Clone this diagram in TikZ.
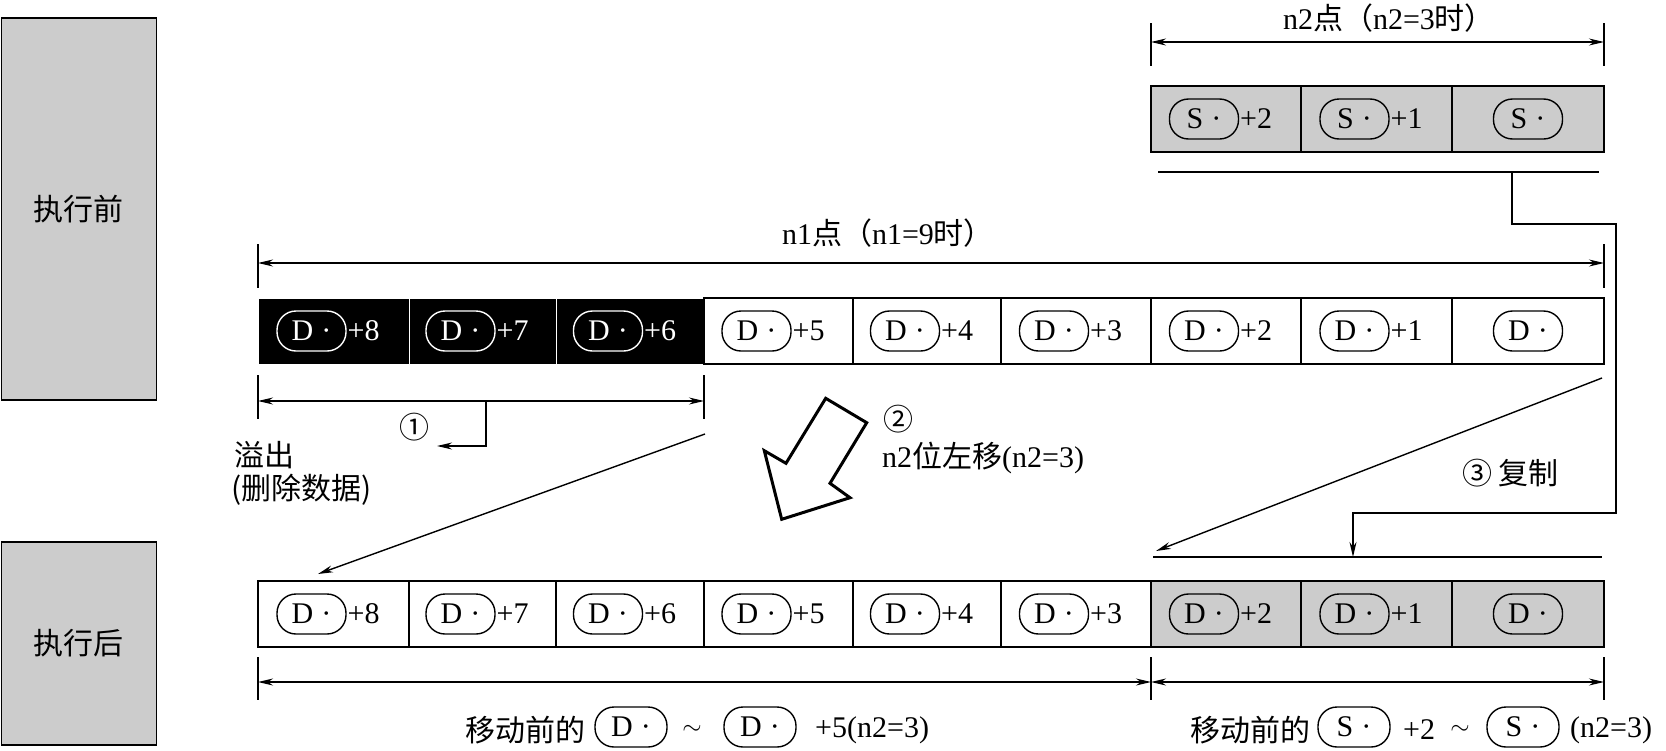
\documentclass[tikz,border=0pt]{standalone}
\usepackage{fontspec}
\setmainfont{Liberation Serif}
\newfontfamily\cjk{Noto Sans CJK SC}
\usetikzlibrary{arrows.meta}
\definecolor{boxgray}{RGB}{204,204,204}
\newcommand\dcell[8]{%
  \node[#5, minimum width=#3pt] (#1) at (#2,#4) {};
  \node[pill, draw=#6, text=#6] (#1p) at ([xshift=-22pt]#1.center) {#7\hspace{8pt}·};
  \node[anchor=west, text=#6] (#1s) at ([xshift=14pt]#1.center) {#8};
}
\newcommand\ecell[7]{%
  \node[#5, minimum width=#3pt] (#1) at (#2,#4) {};
  \node[pill, draw=#6, text=#6] (#1p) at (#1.center) {#7\hspace{8pt}·};
}
\begin{document}
\begin{tikzpicture}[x=1pt,y=-1pt,
  every node/.style={font=\fontsize{30}{34}\selectfont, inner sep=0pt},
  sidebox/.style={draw, line width=1.8pt, fill=boxgray},
  cellw/.style={draw, line width=1.8pt, fill=white, minimum height=66pt},
  cellg/.style={draw, line width=1.8pt, fill=boxgray, minimum height=66pt},
  cellk/.style={draw=white, line width=1pt, fill=black, minimum height=66pt},
  pill/.style={draw, line width=1.4pt, rounded corners=19pt, minimum width=69pt, minimum height=40pt},
  arr/.style={-{Stealth[length=15pt,width=7pt]}},
  dimln/.style={line width=1.4pt, {Stealth[length=15pt,width=7pt]}-{Stealth[length=15pt,width=7pt]}},
  tickln/.style={line width=1.4pt},
  conn/.style={line width=1.4pt},
]
\useasboundingbox (0,0) rectangle (1666,750);

% side labels
\node[sidebox, minimum width=155pt, minimum height=382pt] (before) at (79,209) {{\cjk 执行前}};
\node[sidebox, minimum width=155pt, minimum height=203pt] (after) at (79,643.5) {{\cjk 执行后}};

% S row
\dcell{s1}{1226}{150}{119}{cellg}{black}{S}{+2}
\dcell{s2}{1376.5}{151}{119}{cellg}{black}{S}{+1}
\ecell{s3}{1528}{152}{119}{cellg}{black}{S}

% top D row
\dcell{t1}{333.5}{151}{331}{cellk}{white}{D}{+8}
\dcell{t2}{482.5}{147}{331}{cellk}{white}{D}{+7}
\dcell{t3}{630}{148}{331}{cellk}{white}{D}{+6}
\dcell{t4}{778.5}{149}{331}{cellw}{black}{D}{+5}
\dcell{t5}{927}{148}{331}{cellw}{black}{D}{+4}
\dcell{t6}{1076}{150}{331}{cellw}{black}{D}{+3}
\dcell{t7}{1226}{150}{331}{cellw}{black}{D}{+2}
\dcell{t8}{1376.5}{151}{331}{cellw}{black}{D}{+1}
\ecell{t9}{1528}{152}{331}{cellw}{black}{D}

% bottom D row
\dcell{b1}{333.5}{151}{614}{cellw}{black}{D}{+8}
\dcell{b2}{482.5}{147}{614}{cellw}{black}{D}{+7}
\dcell{b3}{630}{148}{614}{cellw}{black}{D}{+6}
\dcell{b4}{778.5}{149}{614}{cellw}{black}{D}{+5}
\dcell{b5}{927}{148}{614}{cellw}{black}{D}{+4}
\dcell{b6}{1076}{150}{614}{cellw}{black}{D}{+3}
\dcell{b7}{1226}{150}{614}{cellg}{black}{D}{+2}
\dcell{b8}{1376.5}{151}{614}{cellg}{black}{D}{+1}
\ecell{b9}{1528}{152}{614}{cellg}{black}{D}

% n2 dimension
\node (n2txt) at (1389,18) {n2{\cjk 点（}n2=3{\cjk 时）}};
\coordinate (n2L) at (1151,42); \coordinate (n2R) at (1604,42);
\draw[dimln] (n2L) -- (n2R);
\draw[tickln] (1151,23) -- (1151,66);
\draw[tickln] (1604,23) -- (1604,66);

% n1 dimension
\node (n1txt) at (888,233) {n1{\cjk 点（}n1=9{\cjk 时）}};
\coordinate (n1L) at (258,263); \coordinate (n1R) at (1604,263);
\draw[dimln] (n1L) -- (n1R);
\draw[tickln] (258,244) -- (258,288);
\draw[tickln] (1604,244) -- (1604,288);

% overflow dimension
\coordinate (ovL) at (258,401); \coordinate (ovR) at (704,401);
\draw[dimln] (ovL) -- (ovR);
\draw[tickln] (258,375) -- (258,419);
\draw[tickln] (704,375) -- (704,419);
\coordinate (ovA) at (486,401); \coordinate (ovB) at (486,446); \coordinate (ovC) at (437,446);
\draw[conn, arr] (ovA) -- (ovB) -- (ovC);
\node (c1) at (414,427) {{\cjk ①}};
\node[anchor=west] (ovt1) at (234,455) {{\cjk 溢出}};
\node[anchor=west] (ovt2) at (231,490) {{\cjk (删除数据)}};

% shift arrow
\coordinate (dA) at (705,434); \coordinate (dB) at (318,574);
\draw[conn, arr] (dA) -- (dB);
\draw[line width=3pt, fill=white, line join=miter] (825.7,398.3) -- (866.7,422.7) -- (830,483.3) -- (850,497.7) -- (781.7,519.3) -- (764.3,450.7) -- (786,463.3) -- cycle;
\node (c2) at (898,419) {{\cjk ②}};
\node[anchor=west] (shtxt) at (882,458) {n2{\cjk 位左移}(n2=3)};

% copy
\coordinate (sUL) at (1158,172); \coordinate (sUR) at (1599,172);
\draw[conn] (sUL) -- (sUR);
\coordinate (k1) at (1512,172); \coordinate (k2) at (1512,224); \coordinate (k3) at (1616,224);
\coordinate (k4) at (1616,513); \coordinate (k5) at (1353,513); \coordinate (k6) at (1353,557);
\draw[conn, arr] (k1) -- (k2) -- (k3) -- (k4) -- (k5) -- (k6);
\coordinate (dUL) at (1153,557); \coordinate (dUR) at (1602,557);
\draw[conn] (dUL) -- (dUR);
\coordinate (cA) at (1602,378); \coordinate (cB) at (1156,551);
\draw[conn, arr] (cA) -- (cB);
\node[anchor=west] (cptxt) at (1462,473) {{\cjk ③ 复制}};

% bottom dimensions
\coordinate (bL) at (258,682); \coordinate (bM) at (1151,682); \coordinate (bR) at (1604,682);
\draw[dimln] (bL) -- (bM);
\draw[dimln] (bM) -- (bR);
\draw[tickln] (258,657) -- (258,700);
\draw[tickln] (1151,657) -- (1151,700);
\draw[tickln] (1604,657) -- (1604,700);

% bottom texts
\node[anchor=west] (m1) at (465,730) {{\cjk 移动前的}};
\node[pill, minimum width=72pt] (m1p) at (631,727) {D\hspace{8pt}·};
\node (m1t) at (692,730) {$\sim$};
\node[pill, minimum width=72pt] (m1q) at (760,727) {D\hspace{8pt}·};
\node[anchor=west] (m1s) at (815,730) {+5(n2=3)};

\node[anchor=west] (m2) at (1190,730) {{\cjk 移动前的}};
\node[pill, minimum width=72pt] (m2p) at (1354,727) {S\hspace{8pt}·};
\node[anchor=west] (m2s) at (1403,730) {+2};
\node (m2t) at (1460,730) {$\sim$};
\node[pill, minimum width=72pt] (m2q) at (1523,727) {S\hspace{8pt}·};
\node[anchor=west] (m2u) at (1570,730) {(n2=3)};
\end{tikzpicture}
\end{document}
